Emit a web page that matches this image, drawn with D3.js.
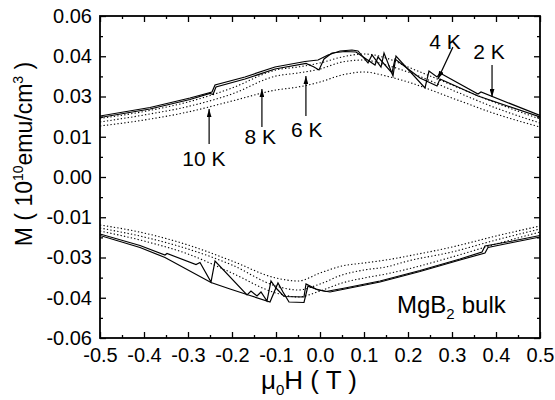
<!DOCTYPE html>
<html>
<head>
<meta charset="utf-8">
<script src="https://cdn.jsdelivr.net/npm/d3@7"></script>
<style>
  body { margin: 0; background: #fff; }
  text { font-family: Arial, "Liberation Sans", sans-serif; fill: #000; }
</style>
</head>
<body>
<svg id="chart" width="555" height="400"></svg>
<script>
// Magnetisation loops M(H) of bulk MgB2, M in units of 1e10 emu/cm^3, field in tesla.

// Common field grid for the smooth (dotted) loops at 6 K, 8 K and 10 K
const fieldGrid = [-0.5, -0.4, -0.3, -0.2, -0.1, -0.05, 0, 0.05, 0.1, 0.15, 0.2, 0.3, 0.4, 0.5];

const upper6K = [0.02180, 0.02441, 0.02795, 0.03317, 0.03988, 0.04099, 0.04249, 0.04472, 0.04584, 0.04435, 0.04099, 0.03429, 0.02758, 0.02162];
const upper8K = [0.02050, 0.02311, 0.02627, 0.03093, 0.03764, 0.03876, 0.04025, 0.04286, 0.04360, 0.04174, 0.03913, 0.03242, 0.02571, 0.02012];
const upper10K = [0.01901, 0.02124, 0.02422, 0.02832, 0.03242, 0.03354, 0.03540, 0.03801, 0.03913, 0.03764, 0.03540, 0.02944, 0.02348, 0.01863];

const lower6K = [-0.02012, -0.02385, -0.02870, -0.03578, -0.04323, -0.04472, -0.04249, -0.03950, -0.03764, -0.03615, -0.03429, -0.02981, -0.02497, -0.02050];
const lower8K = [-0.01901, -0.02236, -0.02683, -0.03280, -0.04062, -0.04211, -0.03988, -0.03652, -0.03466, -0.03354, -0.03130, -0.02795, -0.02348, -0.01938];
const lower10K = [-0.01789, -0.02087, -0.02534, -0.03130, -0.03764, -0.03876, -0.03578, -0.03317, -0.03205, -0.03093, -0.02944, -0.02609, -0.02199, -0.01826];

// 2 K and 4 K loops, with flux jumps (own field samples)
const upper2K_H = [-0.5, -0.3864, -0.2955, -0.2455, -0.2386, -0.1705, -0.1023, -0.0341, -0.0045, 0.0182, 0.0455, 0.0727, 0.0864, 0.1091, 0.1182, 0.1386, 0.1455, 0.1659, 0.1727, 0.2386, 0.2477, 0.2659, 0.2727, 0.3591, 0.3659, 0.5];
const upper2K_M = [0.02273, 0.02590, 0.02944, 0.03168, 0.03429, 0.03727, 0.04099, 0.04304, 0.04360, 0.04547, 0.04696, 0.04733, 0.04696, 0.04249, 0.04547, 0.04099, 0.04621, 0.03764, 0.04509, 0.03317, 0.03950, 0.03727, 0.03876, 0.03093, 0.03168, 0.02292];

const upper4K_H = [-0.5, -0.3864, -0.2955, -0.25, -0.2432, -0.2364, -0.1705, -0.1023, -0.0318, -0.0136, -0.0023, 0.0091, 0.0273, 0.0568, 0.0818, 0.1250, 0.1318, 0.1636, 0.1705, 0.2273, 0.2659, 0.2727, 0.3591, 0.5];
const upper4K_M = [0.02217, 0.02534, 0.02888, 0.03112, 0.03075, 0.03354, 0.03652, 0.04025, 0.04230, 0.04099, 0.03988, 0.04398, 0.04621, 0.04677, 0.04658, 0.04174, 0.04472, 0.03876, 0.04398, 0.03690, 0.03392, 0.03652, 0.03018, 0.02236];

const lower2K_H = [-0.5, -0.4091, -0.3523, -0.3477, -0.2818, -0.2727, -0.2477, -0.2386, -0.1659, -0.1568, -0.1432, -0.1341, -0.1205, -0.1114, -0.1, -0.0818, -0.0364, -0.0318, -0.0091, 0.0136, 0.0568, 0.1364, 0.2273, 0.3182, 0.3682, 0.375, 0.4318, 0.5];
const lower2K_M = [-0.02124, -0.02553, -0.02907, -0.02851, -0.03261, -0.03186, -0.03913, -0.03130, -0.04398, -0.04249, -0.04435, -0.04286, -0.04621, -0.03876, -0.04137, -0.04453, -0.04472, -0.03988, -0.04174, -0.04267, -0.04137, -0.03876, -0.03485, -0.03056, -0.02795, -0.02571, -0.02404, -0.02180];

const lower4K_H = [-0.5, -0.4091, -0.3523, -0.2477, -0.2045, -0.1591, -0.1136, -0.0955, -0.0841, -0.0705, -0.0364, -0.0273, -0.0045, 0.0227, 0.0568, 0.1364, 0.2273, 0.3182, 0.375, 0.3818, 0.4318, 0.5];
const lower4K_M = [-0.02180, -0.02627, -0.03000, -0.03932, -0.04174, -0.04416, -0.04658, -0.03950, -0.04286, -0.04658, -0.04677, -0.04062, -0.04211, -0.04286, -0.04174, -0.03913, -0.03522, -0.03093, -0.02832, -0.02627, -0.02460, -0.02236];

// Axis ticks
const xTickValues = [-0.5, -0.4, -0.3, -0.2, -0.1, 0, 0.1, 0.2, 0.3, 0.4, 0.5];
const xTickLabels = ["-0.5", "-0.4", "-0.3", "-0.2", "-0.1", "0.0", "0.1", "0.2", "0.3", "0.4", "0.5"];
const yTickValues = [-0.06, -0.045, -0.03, -0.015, 0, 0.015, 0.03, 0.045, 0.06];
const yTickLabels = ["-0.06", "-0.04", "-0.03", "-0.01", "0.00", "0.01", "0.03", "0.04", "0.06"];

// Temperature annotations with arrows
const annoLabels = ["2 K", "4 K", "6 K", "8 K", "10 K"];
const annoTipH = [0.391, 0.268, -0.032, -0.132, -0.252];
const annoTipM = [0.0298, 0.0365, 0.0376, 0.0328, 0.0253];
const annoTailH = [0.391, 0.302, -0.032, -0.132, -0.252];
const annoTailM = [0.0417, 0.0484, 0.0227, 0.0186, 0.0123];
const annoTextH = [0.384, 0.284, -0.030, -0.136, -0.264];
const annoTextM = [0.0440, 0.0477, 0.0149, 0.0123, 0.0041];

const svg = d3.select("#chart");
const plotL = 100, plotR = 540, plotT = 16, plotB = 338;

const x = d3.scaleLinear().domain([-0.5, 0.5]).range([plotL, plotR]);
const y = d3.scaleLinear().domain([-0.06, 0.06]).range([plotB, plotT]);

const defs = svg.append("defs");
defs.append("clipPath").attr("id", "clip")
  .append("rect").attr("x", plotL).attr("y", plotT).attr("width", plotR - plotL).attr("height", plotB - plotT);

const line = d3.line().x(d => x(d[0])).y(d => y(d[1]));
const smooth = d3.line().x(d => x(d[0])).y(d => y(d[1])).curve(d3.curveMonotoneX);

const curves = svg.append("g").attr("clip-path", "url(#clip)");

// dotted loops
[upper6K, upper8K, upper10K, lower6K, lower8K, lower10K].forEach(ms => {
  curves.append("path")
    .attr("d", smooth(fieldGrid.map((h, i) => [h, ms[i]])))
    .attr("fill", "none").attr("stroke", "#000")
    .attr("stroke-width", 1.1).attr("stroke-dasharray", "1.3,2.2");
});

// solid loops
[[upper2K_H, upper2K_M], [upper4K_H, upper4K_M], [lower2K_H, lower2K_M], [lower4K_H, lower4K_M]].forEach(([hs, ms]) => {
  curves.append("path")
    .attr("d", line(hs.map((h, i) => [h, ms[i]])))
    .attr("fill", "none").attr("stroke", "#000")
    .attr("stroke-width", 1.2).attr("stroke-linejoin", "miter");
});

// axes with inward ticks on all four sides
function styleAxis(g) {
  g.select(".domain").remove();
  g.selectAll(".tick line").attr("stroke", "#000").attr("stroke-width", 1.3);
  g.selectAll("text").style("font-size", "20px").attr("fill", "#000");
}
const xMinor = d3.range(-0.45, 0.5, 0.1);
const yMinor = d3.range(-0.0525, 0.06, 0.015);

svg.append("g").attr("transform", `translate(0,${plotB})`)
  .call(d3.axisBottom(x).tickValues(xTickValues).tickSize(-6).tickPadding(10)
    .tickFormat((d, i) => xTickLabels[i]))
  .call(styleAxis);
svg.append("g").attr("transform", `translate(0,${plotB})`)
  .call(d3.axisBottom(x).tickValues(xMinor).tickSize(-3).tickFormat(""))
  .call(styleAxis);
svg.append("g").attr("transform", `translate(0,${plotT})`)
  .call(d3.axisTop(x).tickValues(xTickValues).tickSize(-6).tickFormat(""))
  .call(styleAxis);
svg.append("g").attr("transform", `translate(0,${plotT})`)
  .call(d3.axisTop(x).tickValues(xMinor).tickSize(-3).tickFormat(""))
  .call(styleAxis);

svg.append("g").attr("transform", `translate(${plotL},0)`)
  .call(d3.axisLeft(y).tickValues(yTickValues).tickSize(-6).tickPadding(8)
    .tickFormat((d, i) => yTickLabels[i]))
  .call(styleAxis);
svg.append("g").attr("transform", `translate(${plotL},0)`)
  .call(d3.axisLeft(y).tickValues(yMinor).tickSize(-3).tickFormat(""))
  .call(styleAxis);
svg.append("g").attr("transform", `translate(${plotR},0)`)
  .call(d3.axisRight(y).tickValues(yTickValues).tickSize(-6).tickFormat(""))
  .call(styleAxis);
svg.append("g").attr("transform", `translate(${plotR},0)`)
  .call(d3.axisRight(y).tickValues(yMinor).tickSize(-3).tickFormat(""))
  .call(styleAxis);

// frame
svg.append("rect").attr("x", plotL).attr("y", plotT)
  .attr("width", plotR - plotL).attr("height", plotB - plotT)
  .attr("fill", "none").attr("stroke", "#000").attr("stroke-width", 1.8);

// arrow marker
defs.append("marker")
  .attr("id", "arrow").attr("viewBox", "0 0 10 6").attr("refX", 10).attr("refY", 3)
  .attr("markerUnits", "userSpaceOnUse").attr("markerWidth", 8).attr("markerHeight", 5)
  .attr("orient", "auto")
  .append("path").attr("d", "M0,0 L10,3 L0,6 Z").attr("fill", "#000");

annoLabels.forEach((lab, i) => {
  svg.append("line")
    .attr("x1", x(annoTailH[i])).attr("y1", y(annoTailM[i]))
    .attr("x2", x(annoTipH[i])).attr("y2", y(annoTipM[i]))
    .attr("stroke", "#000").attr("stroke-width", 1.2)
    .attr("marker-end", "url(#arrow)");
  svg.append("text")
    .attr("x", x(annoTextH[i])).attr("y", y(annoTextM[i]))
    .attr("text-anchor", "middle").style("font-size", "21px")
    .text(lab);
});

// sample label
const sample = svg.append("text").attr("x", 397).attr("y", 313).style("font-size", "24px");
sample.append("tspan").text("MgB");
sample.append("tspan").attr("dy", 6).style("font-size", "15px").text("2");
sample.append("tspan").attr("dy", -6).attr("dx", 7).text("bulk");

// axis titles
const xt = svg.append("text").attr("x", 309).attr("y", 389)
  .attr("text-anchor", "middle").style("font-size", "26px");
xt.append("tspan").text("\u03bc");
xt.append("tspan").attr("dy", 6).style("font-size", "15px").text("0");
xt.append("tspan").attr("dy", -6).text("H ( T )");

const yt = svg.append("text").attr("transform", "translate(32,154) rotate(-90)")
  .attr("text-anchor", "middle").style("font-size", "23px");
yt.append("tspan").text("M ( 10");
yt.append("tspan").attr("dy", -9).style("font-size", "14px").text("10");
yt.append("tspan").attr("dy", 9).text("emu/cm");
yt.append("tspan").attr("dy", -9).style("font-size", "14px").text("3");
yt.append("tspan").attr("dy", 9).text(" )");
</script>
</body>
</html>
